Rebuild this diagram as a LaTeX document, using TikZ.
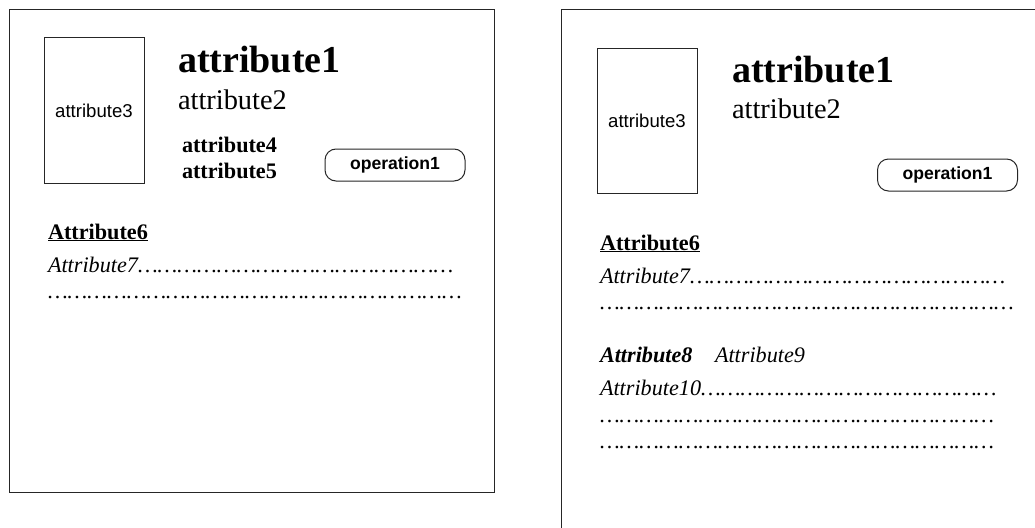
\documentclass[tikz,border=0pt]{standalone}
\usepackage{fontspec}
\usepackage{graphicx}
\setmainfont{Liberation Serif}
\newfontfamily\arialf{Liberation Sans}
\newcommand\ellrep[1]{\foreach\i in {1,...,#1}{\resizebox{19.7pt}{\height}{…}}}
\begin{document}
\begin{tikzpicture}[x=1pt,y=-1pt,
  txt/.style={anchor=base west,inner sep=0pt,outer sep=0pt},
  panel/.style={draw=black!85,line width=1pt},
  photobox/.style={draw=black!85,line width=1pt,minimum width=100pt,minimum height=145pt,inner sep=0pt,font=\arialf\fontsize{18.6}{20}\selectfont},
  opbox/.style={draw=black!85,line width=1pt,rounded corners=11pt,minimum width=140pt,minimum height=32pt,inner sep=0pt,font=\arialf\bfseries\fontsize{17.6}{20}\selectfont},
  big/.style={font=\bfseries\fontsize{38}{40}\selectfont},
  mid/.style={font=\fontsize{28.4}{30}\selectfont},
  nbf/.style={font=\bfseries\fontsize{22.2}{26}\selectfont},
  nit/.style={font=\itshape\fontsize{22.2}{26}\selectfont},
  nbi/.style={font=\bfseries\itshape\fontsize{22.2}{26}\selectfont}]
\useasboundingbox (0,0) rectangle (1035,527);
\clip (0,0) rectangle (1035,527);
\fill[white] (0,0) rectangle (1035,527);
% left panel
\draw[panel] (9,10) rectangle (494,492);
\node[photobox] (lphoto) at (94,110.5) {attribute3};
\node[txt,big] (la1) at (178,72) {attribute1};
\node[txt,mid] (la2) at (178,109) {attribute2};
\node[txt,nbf] (la4) at (182,152) {attribute4};
\node[txt,nbf] (la5) at (182,178) {attribute5};
\node[opbox] (lop) at (395,165) {operation1};
\node[txt,nbf] (la6) at (48,239) {\underline{Attribute6}};
\node[txt,nit] (la7) at (48,272) {Attribute7\ellrep{16}};
\node[txt,nit] (ld1) at (48,298) {\ellrep{21}};
% right panel
\draw[panel] (1045,10) -- (561,10) -- (561,540);
\node[photobox] (rphoto) at (647,121) {attribute3};
\node[txt,big] (ra1) at (732,82) {attribute1};
\node[txt,mid] (ra2) at (732,118) {attribute2};
\node[opbox] (rop) at (947.5,175) {operation1};
\node[txt,nbf] (ra6) at (600,250) {\underline{Attribute6}};
\node[txt,nit] (ra7) at (600,283) {Attribute7\ellrep{16}};
\node[txt,nit] (rd1) at (600,309) {\ellrep{21}};
\node[txt,nbi] (ra8) at (600,362) {Attribute8};
\node[txt,nit] (ra9) at (715,362) {Attribute9};
\node[txt,nit] (ra10) at (600,395) {Attribute10\ellrep{15}};
\node[txt,nit] (rd2) at (600,422) {\ellrep{20}};
\node[txt,nit] (rd3) at (600,448) {\ellrep{20}};
\end{tikzpicture}
\end{document}
